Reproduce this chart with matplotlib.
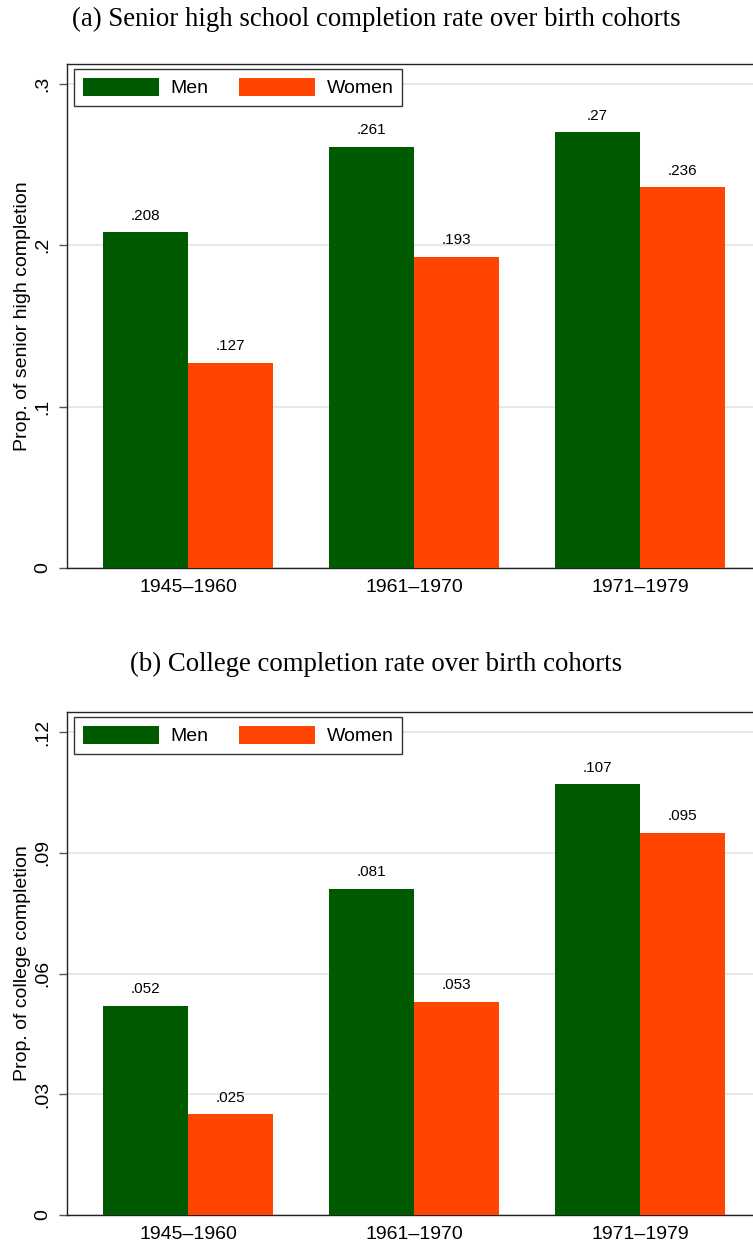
import numpy as np
import matplotlib
matplotlib.use("Agg")
import matplotlib.pyplot as plt
from matplotlib.patches import Patch

# Birth cohorts and completion proportions
cohorts = ["1945\u20131960", "1961\u20131970", "1971\u20131979"]

hs_men = [0.208, 0.261, 0.270]
hs_women = [0.127, 0.193, 0.236]

col_men = [0.052, 0.081, 0.107]
col_women = [0.025, 0.053, 0.095]

hs_ticks = [0, 0.1, 0.2, 0.3]
col_ticks = [0, 0.03, 0.06, 0.09, 0.12]

GREEN = "#005A00"
ORANGE = "#FF4500"

plt.rcParams["font.family"] = ["Liberation Sans", "DejaVu Sans"]

W, H = 753, 1243
fig = plt.figure(figsize=(W / 100, H / 100), dpi=100)


def stata_fmt(v):
    s = f"{v:.3f}".rstrip("0").rstrip(".")
    if s.startswith("0."):
        s = s[1:]
    return s


def panel(rect, men, women, ticks, ytop, ylabel):
    ax = fig.add_axes(rect)
    x = np.arange(len(cohorts))
    w = 0.376
    bm = ax.bar(x - w / 2, men, w, color=GREEN, linewidth=0, zorder=3)
    bw = ax.bar(x + w / 2, women, w, color=ORANGE, linewidth=0, zorder=3)
    for bars, vals in ((bm, men), (bw, women)):
        for b, v in zip(bars, vals):
            ax.annotate(stata_fmt(v), (b.get_x() + b.get_width() / 2, v),
                        xytext=(0, 7), textcoords="offset points",
                        ha="center", va="bottom", fontsize=11, zorder=4)
    ax.set_xlim(-0.535, 2.535)
    ax.set_ylim(0, ytop)
    ax.set_xticks(x)
    ax.set_xticklabels(cohorts, fontsize=14)
    ax.tick_params(axis="x", length=0, pad=8)
    ax.set_yticks(ticks)
    ax.set_yticklabels([stata_fmt(t) if t != 0 else "0" for t in ticks],
                       fontsize=14, rotation=90, va="center")
    ax.tick_params(axis="y", length=6, width=1, color="#555555", pad=5)
    ax.yaxis.grid(True, color="#E3E3E3", linewidth=1.2, zorder=0)
    ax.set_axisbelow(True)
    for side in ("left", "top", "bottom", "right"):
        ax.spines[side].set_color("#222222")
        ax.spines[side].set_linewidth(1.0)
    ax.set_ylabel(ylabel, fontsize=14, labelpad=3)
    handles = [Patch(facecolor=GREEN, edgecolor="none", label="Men"),
               Patch(facecolor=ORANGE, edgecolor="none", label="Women")]
    leg = ax.legend(handles=handles, ncol=2, loc="upper left",
                    bbox_to_anchor=(0.010, 0.990), borderaxespad=0,
                    fontsize=14, handlelength=3.9, handleheight=1.03,
                    handletextpad=0.62, columnspacing=1.55, borderpad=0.45,
                    fancybox=False, framealpha=1, edgecolor="#333333")
    leg.get_frame().set_linewidth(1.0)
    return ax


left = 67 / W
width = (761 - 67) / W

# Panel (a)
ya_top, ya_bot = 64, 568
panel([left, 1 - ya_bot / H, width, (ya_bot - ya_top) / H],
      hs_men, hs_women, hs_ticks, 0.3 * (ya_bot - ya_top) / (ya_bot - 84),
      "Prop. of senior high completion")

# Panel (b)
yb_top, yb_bot = 712, 1215
panel([left, 1 - yb_bot / H, width, (yb_bot - yb_top) / H],
      col_men, col_women, col_ticks, 0.12 * (yb_bot - yb_top) / (yb_bot - 732),
      "Prop. of college completion")

serif = ["Liberation Serif", "DejaVu Serif"]
fig.text(0.5, 1 - 19 / H, "(a) Senior high school completion rate over birth cohorts",
         ha="center", va="center", fontsize=19.3, family=serif)
fig.text(0.5, 1 - 664 / H, "(b) College completion rate over birth cohorts",
         ha="center", va="center", fontsize=19.3, family=serif)

fig.savefig("out.png", dpi=100)
